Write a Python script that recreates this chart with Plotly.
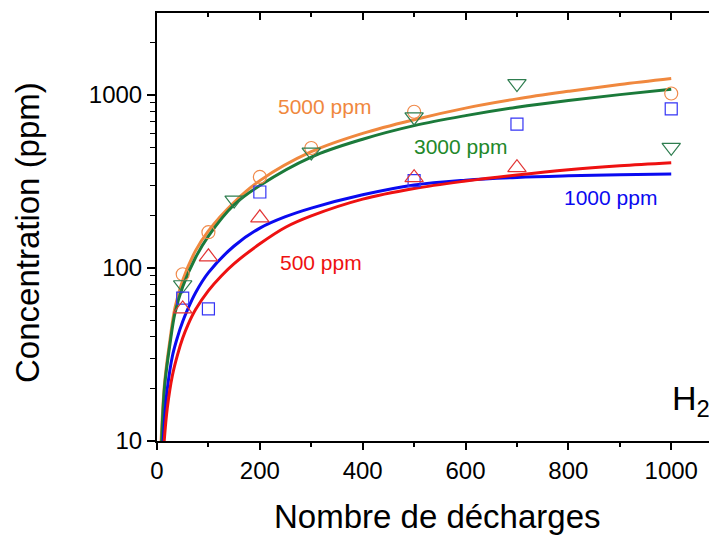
import math
import plotly.graph_objects as go

# ---- measured points ----
x_5000 = [50, 100, 200, 300, 500, 1000]
y_5000 = [92, 161, 336, 494, 800, 1020]

x_3000 = [50, 150, 300, 500, 700, 1000]
y_3000 = [80, 247, 468, 747, 1164, 498]

x_1000 = [50, 100, 200, 500, 700, 1000]
y_1000 = [67, 58, 275, 320, 679, 832]

x_500 = [50, 100, 200, 500, 700]
y_500 = [58, 116, 195, 333, 380]

# ---- fitted curves ----
fx_5000 = [8, 15, 25, 35, 50, 75, 100, 150, 200, 300, 400, 500, 600, 700, 800, 900, 1000]
fy_5000 = [10, 22, 38, 59, 85, 126, 164, 240, 320, 470, 600, 720, 840, 950, 1050, 1150, 1245]

fx_3000 = [9, 15, 25, 35, 50, 75, 100, 150, 200, 300, 400, 500, 600, 700, 800, 900, 1000]
fy_3000 = [10, 21, 36, 55, 78, 115, 153, 232, 300, 438, 555, 665, 760, 850, 930, 1005, 1080]

fx_1000 = [12, 16, 20, 30, 40, 50, 60, 75, 100, 150, 200, 250, 300, 400, 500, 600, 700, 800, 900, 1000]
fy_1000 = [10, 15, 20, 31, 40, 49, 58, 72, 94, 134, 170, 198, 222, 265, 302, 322, 334, 341, 346, 349]

fx_500 = [14, 20, 30, 40, 50, 60, 75, 100, 125, 150, 200, 250, 300, 400, 500, 600, 700, 800, 900, 1000]
fy_500 = [10, 15.5, 24, 31.6, 39.4, 46.8, 57.5, 74, 90, 106, 138, 172, 200, 250, 288, 318, 345, 370, 390, 406]

# labels
series_labels = ["5000 ppm", "3000 ppm", "1000 ppm", "500 ppm"]
label_x = [325, 590, 882, 319]
label_y = [853, 507, 257, 108]

x_title = "Nombre de décharges"
y_title = "Concentration (ppm)"
gas_label = "H<sub>2</sub>"

C_OR = "#F0883E"
C_GR = "#1B7A3A"
C_BL = "#0A0AF0"
C_RD = "#EE1111"
M_OR = "#F08A4B"
M_GR = "#2E7D4F"
M_BL = "#3535F5"
M_RD = "#E23535"
T_GR = "#22882A"

FONT = "Liberation Sans, Arial, sans-serif"

fig = go.Figure()

for fx, fy, c in [(fx_5000, fy_5000, C_OR), (fx_3000, fy_3000, C_GR),
                  (fx_1000, fy_1000, C_BL), (fx_500, fy_500, C_RD)]:
    fig.add_trace(go.Scatter(x=fx, y=fy, mode="lines",
                             line=dict(color=c, width=3, shape="spline", smoothing=1.0),
                             showlegend=False, hoverinfo="skip"))

for xs, ys, sym, c, s in [(x_5000, y_5000, "circle-open", M_OR, 13),
                          (x_3000, y_3000, "triangle-down-open", M_GR, 16),
                          (x_1000, y_1000, "square-open", M_BL, 12),
                          (x_500, y_500, "triangle-up-open", M_RD, 16)]:
    fig.add_trace(go.Scatter(x=xs, y=ys, mode="markers",
                             marker=dict(symbol=sym, size=s, color=c, line=dict(color=c, width=1.2)),
                             showlegend=False))

# invisible trace for the mirror axes
fig.add_trace(go.Scatter(x=[0], y=[10], xaxis="x2", yaxis="y2", mode="markers",
                         marker=dict(opacity=0), showlegend=False, hoverinfo="skip"))

XR = [0, 1089]
YR = [1, 3.474]
ylog_minor = [20, 30, 40, 50, 60, 70, 80, 90, 200, 300, 400, 500, 600, 700, 800, 900, 2000]

fig.update_layout(
    width=709, height=528,
    margin=dict(l=149, r=0, t=5, b=95),
    paper_bgcolor="white", plot_bgcolor="white",
    font=dict(family=FONT, color="black"),
    xaxis=dict(range=XR, showgrid=False, zeroline=False, showline=True, linecolor="black", linewidth=2,
               ticks="outside", ticklen=7, tickwidth=1.5, tickcolor="black", dtick=200, tick0=0,
               tickfont=dict(size=24, family=FONT, color="black"),
               minor=dict(ticks="outside", ticklen=4, tickwidth=1.5, tickcolor="black", dtick=100, tick0=0, showgrid=False)),
    xaxis2=dict(range=XR, overlaying="x", side="top", anchor="y", showgrid=False, zeroline=False,
                showline=True, linecolor="black", linewidth=2, showticklabels=False,
                ticks="inside", ticklen=7, tickwidth=1.5, tickcolor="black", dtick=200, tick0=0,
                minor=dict(ticks="inside", ticklen=4, tickwidth=1.5, tickcolor="black", dtick=100, tick0=0, showgrid=False)),
    yaxis=dict(type="log", range=YR, showgrid=False, zeroline=False, showline=True, linecolor="black", linewidth=2,
               ticks="outside", ticklen=8, tickwidth=1.5, tickcolor="black",
               tickvals=[10, 100, 1000], ticktext=["10", "100", "1000"],
               tickfont=dict(size=24, family=FONT, color="black"),
               minor=dict(ticks="outside", ticklen=5, tickwidth=1.2, tickcolor="black", tickvals=ylog_minor, showgrid=False)),
    yaxis2=dict(type="log", range=YR, overlaying="y", side="right", anchor="x", showgrid=False, zeroline=False,
                showline=False, showticklabels=False,
                ticks="inside", ticklen=5, tickwidth=1.5, tickcolor="black", tickvals=[10, 100, 1000],
                minor=dict(ticks="inside", ticklen=2, tickwidth=1, tickcolor="black", tickvals=ylog_minor, showgrid=False)),
)

for t, xx, yy, c in zip(series_labels, label_x, label_y, [C_OR, T_GR, C_BL, C_RD]):
    fig.add_annotation(x=xx, y=math.log10(yy), text=t, showarrow=False,
                       font=dict(size=21, color=c, family=FONT), xanchor="center", yanchor="middle")

fig.add_annotation(x=(670 - 157) / 560, y=(441 - 400) / 428, xref="paper", yref="paper", text=gas_label,
                   showarrow=False, font=dict(size=34, color="black", family=FONT), xanchor="left", yanchor="middle")

fig.add_annotation(x=0.5, y=-75 / 428, xref="paper", yref="paper", text=x_title, showarrow=False,
                   font=dict(size=33, color="black", family=FONT), xanchor="center", yanchor="middle")
fig.add_annotation(x=-129 / 560, y=(441 - 233) / 428, xref="paper", yref="paper", text=y_title, showarrow=False,
                   textangle=-90, font=dict(size=33, color="black", family=FONT), xanchor="center", yanchor="middle")

fig.write_html("out.html")
